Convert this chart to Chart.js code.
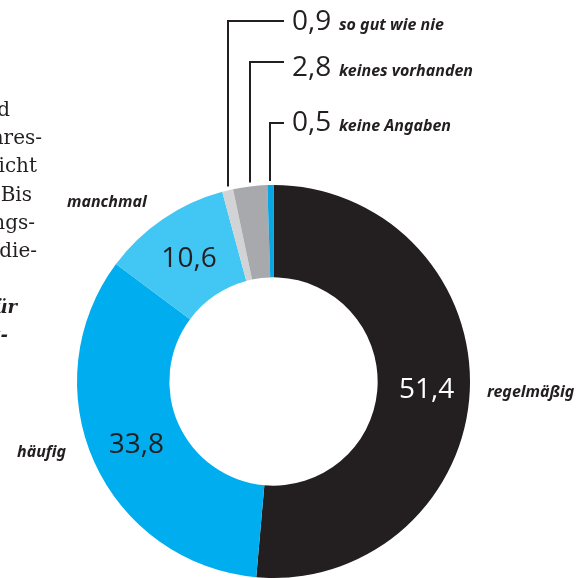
<!DOCTYPE html>
<html lang="de">
<head>
<meta charset="utf-8">
<title>Nutzung</title>
<script src="https://cdn.jsdelivr.net/npm/chart.js@4/dist/chart.umd.min.js"></script>
<style>
    html, body { margin: 0; padding: 0; background: #fff; }
    #wrap { position: relative; width: 587px; height: 578px; overflow: hidden; }
</style>
</head>
<body>
<div id="wrap">
    <canvas id="usageChart" width="587" height="578"></canvas>
</div>
<script>
const categories = ['regelmäßig', 'häufig', 'manchmal', 'so gut wie nie', 'keines vorhanden', 'keine Angaben'];
const shares = [51.4, 33.8, 10.6, 0.9, 2.8, 0.5];
const sliceColors = ['#231f20', '#00adee', '#42c6f3', '#d1d3d4', '#a7a9ac', '#0aa6e4'];

const INK = '#231f20';
const NUM_FONT = '400 28px "Open Sans", sans-serif';
const CAT_FONT = 'italic 700 16px "Noto Sans", sans-serif';

// labels for the three big slices: value sits in the ring, name outside
const outerNames = [
    { x: 487, y: 397, align: 'left' },
    { x: 17, y: 457, align: 'left' },
    { x: 67, y: 207, align: 'left' }
];

// callout rows for the thin slices, stacked above the ring
const calloutRows = [
    { slice: 3, lineY: 21, textY: 30 },
    { slice: 4, lineY: 62, textY: 76 },
    { slice: 5, lineY: 123, textY: 131 }
];

// end of the article column running in from the left
const columnText = [
    { text: 'und', right: 10, y: 116, bold: false },
    { text: 'Jahres-', right: 42, y: 144, bold: false },
    { text: 'nicht', right: 37, y: 172, bold: false },
    { text: 'Bis', right: 32, y: 201, bold: false },
    { text: 'ngs-', right: 35, y: 229, bold: false },
    { text: 'die-', right: 37, y: 257, bold: false },
    { text: 'für', right: 17, y: 313, bold: true },
    { text: 't-', right: 8, y: 341, bold: true }
];

const fmt = v => v.toLocaleString('de-DE', { minimumFractionDigits: 1, maximumFractionDigits: 1 });

const sliceLabels = {
    id: 'sliceLabels',
    afterDatasetsDraw(chart) {
        const { ctx } = chart;
        const arcs = chart.getDatasetMeta(0).data;

        ctx.save();

        // values inside the ring
        ctx.font = NUM_FONT;
        ctx.textAlign = 'center';
        ctx.textBaseline = 'middle';
        for (let i = 0; i < 3; i++) {
            const p = arcs[i].getCenterPoint();
            ctx.fillStyle = i === 0 ? '#ffffff' : INK;
            ctx.fillText(fmt(shares[i]), p.x + (i === 0 ? 3 : 0), p.y + 2);
        }

        // category names next to the ring
        ctx.font = CAT_FONT;
        ctx.fillStyle = INK;
        ctx.textBaseline = 'alphabetic';
        outerNames.forEach((pos, i) => {
            ctx.textAlign = pos.align;
            ctx.fillText(categories[i], pos.x, pos.y);
        });

        // leader lines for the small slices
        ctx.strokeStyle = INK;
        ctx.lineWidth = 2;
        calloutRows.forEach(row => {
            const arc = arcs[row.slice];
            const mid = (arc.startAngle + arc.endAngle) / 2;
            const x = Math.round(arc.x + Math.cos(mid) * arc.outerRadius);
            const yEdge = arc.y + Math.sin(mid) * arc.outerRadius;

            ctx.beginPath();
            ctx.moveTo(x, yEdge - 4);
            ctx.lineTo(x, row.lineY);
            ctx.lineTo(284, row.lineY);
            ctx.stroke();

            ctx.textAlign = 'left';
            ctx.font = NUM_FONT;
            ctx.fillText(fmt(shares[row.slice]), 292, row.textY);
            ctx.font = CAT_FONT;
            ctx.fillText(categories[row.slice], 339, row.textY);
        });

        // cut-off article text
        ctx.textAlign = 'right';
        columnText.forEach(line => {
            ctx.font = line.bold ? 'italic 700 18px "DejaVu Serif", serif' : '20px "DejaVu Serif", serif';
            ctx.fillText(line.text, line.right, line.y);
        });

        ctx.restore();
    }
};

const ctx = document.getElementById('usageChart').getContext('2d');

new Chart(ctx, {
    type: 'doughnut',
    data: {
        labels: categories,
        datasets: [{
            data: shares,
            backgroundColor: sliceColors,
            borderWidth: 0
        }]
    },
    options: {
        responsive: false,
        animation: false,
        cutout: '53%',
        layout: {
            padding: { left: 77, right: 117, top: 185, bottom: 0 }
        },
        plugins: {
            legend: { display: false },
            tooltip: { enabled: false }
        }
    },
    plugins: [sliceLabels]
});
</script>
</body>
</html>
